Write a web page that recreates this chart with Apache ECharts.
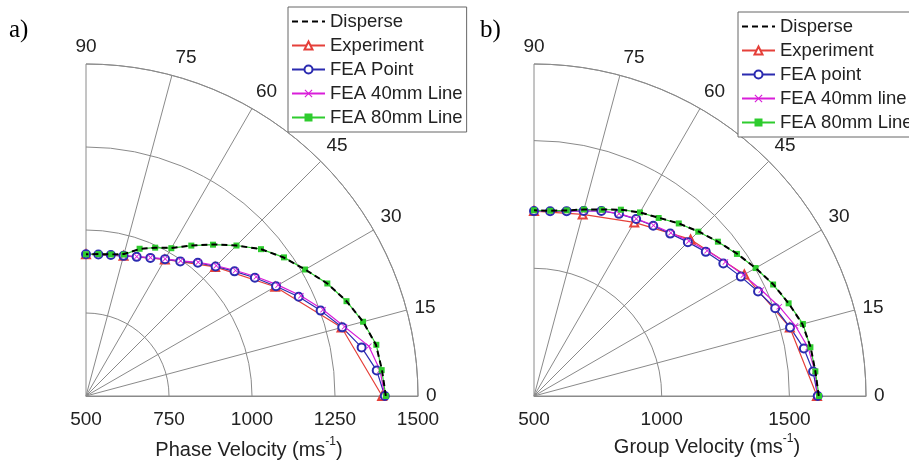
<!DOCTYPE html>
<html>
<head>
<meta charset="utf-8">
<script src="https://cdn.jsdelivr.net/npm/echarts@6/dist/echarts.min.js"></script>
<style>
  html, body { margin: 0; padding: 0; background: #fff; }
  #main { width: 909px; height: 461px; }
</style>
</head>
<body>
<div id="main"></div>
<script>
// angles (deg) of the FEA / Disperse curves, every 5 deg
var angles = [0, 5, 10, 15, 20, 25, 30, 35, 40, 45, 50, 55, 60, 65, 70, 75, 80, 85, 90];
// the experiment was measured every 15 deg
var expAngles = [0, 15, 30, 45, 60, 75, 90];

// a) phase velocity (m/s)
var phaseDisperse = [1403, 1395, 1387, 1364, 1335, 1302, 1262, 1227, 1188, 1141, 1096, 1053, 1015, 993, 971, 943, 933, 929, 927];
var phaseExperiment = [1392, 1297, 1158, 1050, 975, 937, 927];
var phasePoint = [1400, 1379, 1343, 1299, 1252, 1207, 1161, 1121, 1084, 1052, 1024, 995, 976, 959, 946, 937, 931, 928, 927];
var phase40 = [1400, 1389, 1365, 1306, 1260, 1214, 1168, 1126, 1088, 1055, 1026, 997, 977, 960, 947, 938, 932, 928, 927];
var phase80 = [1403, 1394, 1388, 1364, 1335, 1302, 1262, 1228, 1188, 1141, 1095, 1053, 1014, 993, 972, 941, 933, 929, 927];

// b) group velocity (m/s)
var groupDisperse = [1615, 1606, 1600, 1588, 1561, 1534, 1502, 1471, 1440, 1411, 1382, 1352, 1330, 1305, 1277, 1256, 1238, 1228, 1227];
var groupExperiment = [1608, 1537, 1451, 1367, 1285, 1236, 1224];
var groupPoint = [1611, 1597, 1573, 1538, 1505, 1468, 1435, 1405, 1378, 1352, 1330, 1314, 1300, 1287, 1271, 1250, 1235, 1226, 1224];
var group40 = [1611, 1604, 1590, 1560, 1522, 1482, 1447, 1415, 1385, 1358, 1334, 1316, 1301, 1288, 1272, 1250, 1236, 1226, 1224];
var group80 = [1616, 1606, 1599, 1590, 1561, 1533, 1502, 1470, 1440, 1410, 1382, 1351, 1330, 1305, 1276, 1256, 1238, 1228, 1227];

var namesA = ['Disperse', 'Experiment', 'FEA Point', 'FEA 40mm Line', 'FEA 80mm Line'];
var namesB = ['Disperse', 'Experiment', 'FEA point', 'FEA 40mm line', 'FEA 80mm Line'];

var FONT = 'Liberation Sans';
var TXT = '#222';
var GRID = '#8a8a8a';
var RED = '#e5403a', BLUE = '#2b2bb0', MAG = '#d91ed9', GREEN = '#2ecc2e';
var CROSS = 'path://M0,1L1,0L5,4L9,0L10,1L6,5L10,9L9,10L5,6L1,10L0,9L4,5Z';

function pairs(angs, vals) {
  var out = [];
  for (var i = 0; i < angs.length; i++) {
    out.push([vals[i], angs[i]]);   // polar: [radius, angle]
  }
  return out;
}

function panelSeries(p, names, dis, exp, pt, l40, l80) {
  return [
    {
      name: names[0], type: 'line', coordinateSystem: 'polar', polarIndex: p,
      data: pairs(angles, dis), symbol: 'none', z: 4,
      lineStyle: { color: '#000', width: 2, type: [6, 4] }, itemStyle: { color: '#000' }
    },
    {
      name: names[1], type: 'line', coordinateSystem: 'polar', polarIndex: p,
      data: pairs(expAngles, exp), symbol: 'emptyTriangle', symbolSize: 8,
      lineStyle: { color: RED, width: 1.2 }, itemStyle: { color: RED, borderWidth: 1.2 }
    },
    {
      name: names[2], type: 'line', coordinateSystem: 'polar', polarIndex: p,
      data: pairs(angles, pt), symbol: 'emptyCircle', symbolSize: 8,
      lineStyle: { color: BLUE, width: 1.2 }, itemStyle: { color: BLUE, borderWidth: 1.2 }
    },
    {
      name: names[3], type: 'line', coordinateSystem: 'polar', polarIndex: p,
      data: pairs(angles, l40), symbol: CROSS, symbolSize: 6,
      lineStyle: { color: MAG, width: 1.2 }, itemStyle: { color: MAG }
    },
    {
      name: names[4], type: 'line', coordinateSystem: 'polar', polarIndex: p,
      data: pairs(angles, l80), symbol: 'rect', symbolSize: 6,
      lineStyle: { color: GREEN, width: 1.2 }, itemStyle: { color: GREEN }
    }
  ];
}

function angleAxis(p) {
  return {
    polarIndex: p, type: 'value', min: 0, max: 90, interval: 15,
    startAngle: 0, endAngle: 90, clockwise: false,
    axisLine: { lineStyle: { color: GRID, width: 1 } },
    axisTick: { show: false },
    axisLabel: {
      color: TXT, fontFamily: FONT, fontSize: 19, margin: 8,
      // the 75 label sits a bit right of the spoke in the original
      formatter: function (v) { return v === 75 ? '{s|75}' : String(v); },
      rich: { s: { color: TXT, fontFamily: FONT, fontSize: 19, padding: [0, 0, 0, 24] } }
    },
    splitLine: { show: true, lineStyle: { color: GRID, width: 1 } }
  };
}

function radiusAxis(p, max, step, showMax) {
  return {
    polarIndex: p, type: 'value', min: 500, max: max, interval: step,
    axisLine: { lineStyle: { color: GRID, width: 1 } },
    axisTick: { show: false },
    axisLabel: {
      color: TXT, fontFamily: FONT, fontSize: 19, margin: -33, showMaxLabel: showMax,
      formatter: function (v) { return String(v); }
    },
    splitLine: { show: true, lineStyle: { color: GRID, width: 1 } }
  };
}

function legend(left, top, names) {
  var items = names.map(function (n, i) {
    // Disperse is a plain dashed line, no marker
    return i === 0 ? { name: n, itemStyle: { opacity: 0 } } : { name: n };
  });
  return {
    left: left, top: top, orient: 'vertical', data: items,
    selectedMode: false, backgroundColor: '#fff',
    borderColor: '#666', borderWidth: 1, borderRadius: 0,
    padding: [5, 4, 5, 3], itemGap: 5, itemWidth: 33, itemHeight: 10,
    textStyle: { fontFamily: FONT, fontSize: 18.5, color: TXT, lineHeight: 18.5 }
  };
}

function axisTitle(text, x, y) {
  return {
    text: text, left: x, top: y, textAlign: 'center', padding: 0,
    textStyle: {
      fontFamily: FONT, fontSize: 20, fontWeight: 'normal', color: TXT, lineHeight: 28,
      rich: { sup: { fontFamily: FONT, fontSize: 12, color: TXT, verticalAlign: 'top' } }
    }
  };
}

var chart = echarts.init(document.getElementById('main'), null, { renderer: 'canvas' });

var option = {
  animation: false,
  backgroundColor: '#fff',
  title: [
    { text: 'a)', left: 9, top: 18, padding: 0, textStyle: { fontFamily: 'Liberation Serif', fontSize: 25, fontWeight: 'normal', color: '#000' } },
    { text: 'b)', left: 480, top: 18, padding: 0, textStyle: { fontFamily: 'Liberation Serif', fontSize: 25, fontWeight: 'normal', color: '#000' } },
    axisTitle('Phase Velocity (ms{sup|-1})', 249, 436),
    axisTitle('Group Velocity (ms{sup|-1})', 707, 433)
  ],
  polar: [
    { center: [86, 396], radius: 332 },
    { center: [534, 396], radius: 332 }
  ],
  angleAxis: [angleAxis(0), angleAxis(1)],
  radiusAxis: [radiusAxis(0, 1500, 250, true), radiusAxis(1, 1800, 500, false)],
  legend: [legend(288, 7, namesA), legend(738, 12, namesB)],
  series: [].concat(
    panelSeries(0, namesA, phaseDisperse, phaseExperiment, phasePoint, phase40, phase80),
    panelSeries(1, namesB, groupDisperse, groupExperiment, groupPoint, group40, group80)
  )
};

chart.setOption(option);
</script>
</body>
</html>
